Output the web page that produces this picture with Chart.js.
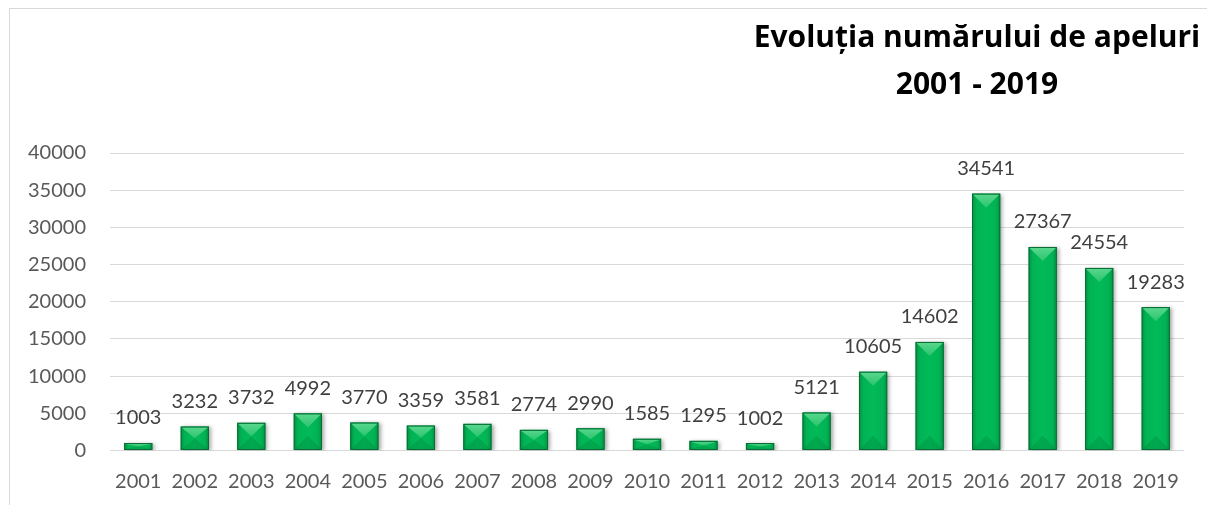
<!DOCTYPE html>
<html>
<head>
<meta charset="utf-8">
<script src="https://cdn.jsdelivr.net/npm/chart.js@4.4.1/dist/chart.umd.min.js"></script>
<style>
  html, body { margin: 0; padding: 0; background: #ffffff; overflow: hidden; }
  #wrap { position: relative; width: 1207px; height: 505px; }
  #frame { position: absolute; left: 9px; top: 8px; width: 1240px; height: 540px; border: 1px solid #d9d9d9; box-sizing: border-box; }
  #title { position: absolute; left: 677px; width: 600px; top: 12px; text-align: center;
           font-family: "Open Sans", Lato, sans-serif; font-weight: bold; font-size: 30px; line-height: 47px; color: #000; }
  canvas { position: absolute; left: 0; top: 0; }
</style>
</head>
<body>
<div id="wrap">
  <div id="frame"></div>
  <canvas id="c" width="1207" height="505"></canvas>
  <div id="title">Evoluția numărului de apeluri<br>2001 - 2019</div>
</div>
<script>
const categories = ['2001','2002','2003','2004','2005','2006','2007','2008','2009','2010',
                    '2011','2012','2013','2014','2015','2016','2017','2018','2019'];
const calls = [1003, 3232, 3732, 4992, 3770, 3359, 3581, 2774, 2990, 1585,
               1295, 1002, 5121, 10605, 14602, 34541, 27367, 24554, 19283];
const yMin = 0;
const yMax = 40000;
const yStep = 5000;

const bevelPlugin = {
  id: 'bevel',
  beforeDatasetsDraw(chart) {
    const ctx = chart.ctx;
    ctx.save();
    ctx.shadowColor = 'rgba(0,0,0,0.35)';
    ctx.shadowBlur = 4;
    ctx.shadowOffsetX = 2;
    ctx.shadowOffsetY = 1;
  },
  afterDatasetsDraw(chart) {
    const ctx = chart.ctx;
    ctx.restore();
    const meta = chart.getDatasetMeta(0);
    meta.data.forEach((el, i) => {
      const w = el.width;
      const l = el.x - w / 2, r = el.x + w / 2;
      const t = el.y, b = el.base;
      const h = b - t;
      const d = Math.min(w / 2, h / 2);
      ctx.save();
      const g = ctx.createLinearGradient(l, 0, r, 0);
      g.addColorStop(0, '#078f45');
      g.addColorStop(0.15, '#00b354');
      g.addColorStop(0.5, '#02ba58');
      g.addColorStop(0.85, '#00b354');
      g.addColorStop(1, '#078f45');
      ctx.fillStyle = g;
      ctx.fillRect(l + 0.5, t + 0.5, w - 1, h - 1);
      ctx.beginPath();
      ctx.moveTo(l + 1, t + 1);
      ctx.lineTo(r - 1, t + 1);
      ctx.lineTo(el.x, t + d);
      ctx.closePath();
      const tg = ctx.createLinearGradient(0, t, 0, t + d);
      tg.addColorStop(0, '#5ad88f');
      tg.addColorStop(1, '#2cc46e');
      ctx.fillStyle = tg;
      ctx.fill();
      ctx.beginPath();
      ctx.moveTo(l + 1, b - 1);
      ctx.lineTo(r - 1, b - 1);
      ctx.lineTo(el.x, b - d);
      ctx.closePath();
      ctx.fillStyle = 'rgba(0,90,40,0.18)';
      ctx.fill();
      ctx.strokeStyle = '#0a6b35';
      ctx.lineWidth = 1;
      ctx.strokeRect(l + 0.5, t + 0.5, w - 1, h - 1);
      ctx.restore();

      ctx.save();
      ctx.font = '20px Lato, "Noto Sans", sans-serif';
      ctx.fillStyle = '#404040';
      ctx.textAlign = 'center';
      ctx.textBaseline = 'middle';
      ctx.fillText(String(calls[i]), el.x, t - 25);
      ctx.restore();
    });
  }
};

function draw() {
  new Chart(document.getElementById('c'), {
    type: 'bar',
    data: {
      labels: categories,
      datasets: [{
        data: calls,
        backgroundColor: '#00b050',
        borderWidth: 0,
        categoryPercentage: 1.0,
        barPercentage: 0.5
      }]
    },
    options: {
      responsive: false,
      animation: false,
      devicePixelRatio: 1,
      layout: { padding: { left: 0, right: 23, top: 153, bottom: 0 } },
      plugins: { legend: { display: false }, title: { display: false }, tooltip: { enabled: false } },
      scales: {
        x: {
          grid: { display: false },
          border: { display: false },
          ticks: { color: '#595959', font: { family: 'Lato', size: 20 }, padding: 11, maxRotation: 0, autoSkip: false },
          afterFit: s => { s.height = 54.5; }
        },
        y: {
          min: yMin, max: yMax,
          grid: { color: '#d9d9d9', lineWidth: 1, drawTicks: false },
          border: { display: false },
          ticks: { stepSize: yStep, color: '#595959', font: { family: 'Lato', size: 20 }, padding: 24,
                   callback: v => String(v) },
          afterFit: s => { s.width = 110; }
        }
      }
    },
    plugins: [bevelPlugin]
  });
}

if (document.fonts && document.fonts.load) {
  Promise.all([document.fonts.load('20px Lato'), document.fonts.load('bold 30px "Open Sans"')]).then(draw, draw);
} else {
  draw();
}
</script>
</body>
</html>
